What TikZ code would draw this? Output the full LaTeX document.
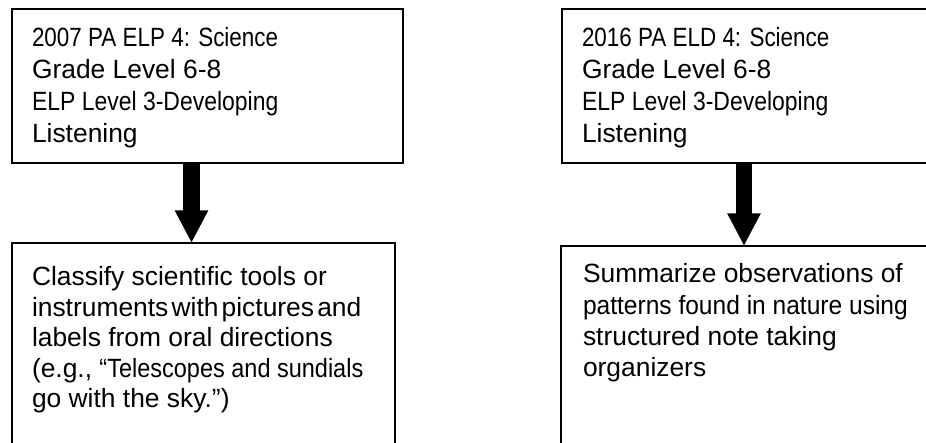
\documentclass[tikz,border=0pt]{standalone}
\usepackage{fontspec}
\setmainfont{Liberation Sans}
\usepackage{graphicx}
\usetikzlibrary{arrows.meta}
\newcommand{\narrow}[2]{\scalebox{#1}[1]{#2}}

\begin{document}
\begin{tikzpicture}[x=0.75pt,y=-0.75pt,
  box/.style={draw,line width=1pt,anchor=north west,inner sep=0pt,outer sep=0pt},
  txt/.style={anchor=north west,inner sep=0pt,outer sep=0pt,align=left},
  down/.style={line width=12.4pt,-{Triangle[length=24.4pt,width=23.25pt]}}]
\useasboundingbox (0,0) rectangle (926,443);
\clip (0,0) rectangle (926,443);
% boxes
\node[box,minimum width=293.25pt,minimum height=115.5pt] (oldstd) at (12,9) {};
\node[box,minimum width=287.25pt,minimum height=172.5pt] (oldtask) at (12,243) {};
\node[box,minimum width=285pt,minimum height=115.5pt] (newstd) at (562,9) {};
\node[box,minimum width=285pt,minimum height=170.25pt] (newtask) at (561,246) {};
% texts
\node[txt,font=\fontsize{19.8}{23.8}\selectfont] (oldstdtxt) at (32,27.8)
  {\narrow{0.85}{2007 PA ELP 4: Science}\\ Grade Level 6-8\\ \narrow{0.87}{ELP Level 3-Developing}\\ Listening};
\node[txt,font=\fontsize{19.8}{23.8}\selectfont] (newstdtxt) at (582,27.8)
  {\narrow{0.85}{2016 PA ELD 4: Science}\\ Grade Level 6-8\\ \narrow{0.87}{ELP Level 3-Developing}\\ Listening};
\node[txt,font=\fontsize{19.8}{22.9}\selectfont] (oldtasktxt) at (32,266.7)
  {Classify scientific tools or\\ {\spaceskip=0.12em\relax instruments with pictures and}\\ labels from oral directions\\ (e.g., \narrow{0.89}{“Telescopes and sundials}\\ go with the sky.")};
\node[txt,font=\fontsize{19.8}{23.4}\selectfont] (newtasktxt) at (583,263.8)
  {Summarize observations of\\ \narrow{0.93}{patterns found in nature using}\\ structured note taking\\ organizers};
% arrows
\coordinate (oldarr) at (191.5,0);
\coordinate (newarr) at (744,0);
\draw[down] (oldstd.south -| oldarr) -- (oldtask.north -| oldarr);
\draw[down] (newstd.south -| newarr) -- (newtask.north -| newarr);
\end{tikzpicture}
\end{document}
